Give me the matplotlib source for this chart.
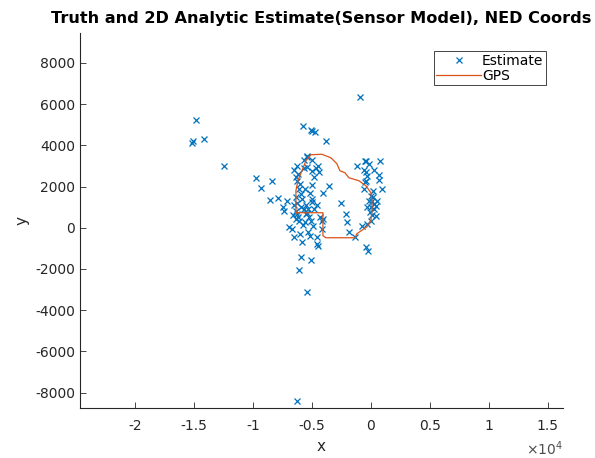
import numpy as np
import matplotlib
matplotlib.use("Agg")
import matplotlib.pyplot as plt
from matplotlib.ticker import FuncFormatter

plt.rcParams['font.family'] = ['DejaVu Sans']
plt.rcParams['axes.unicode_minus'] = False

# estimate points (NED, metres)
est_x = [-959, -14832, -15112, -15197, -14178, -12506, -5799, -5069, -5009, -4754,
         -3846, -5408, -5459, -9738, -8405, -9365, -8600, -7870, -7497, -7412,
         -7106, -6537, -6393, -6257, -5688, -5434, -4984, -4695, -4415, -4839,
         -3566, -4075, -4984, -6113, -5968, -5833, -5034, -4984, -6368, -6283,
         -6198, -6113, -6368, -5544, -5264, -5119, -4075, -4135, -6962, -6682,
         -6537, -5833, -5179, -4559, -4559, -4135, -2572, -2148, -2012, -1868,
         -1358, -1214, -535, -399, 790, -450, -314, -450, 255, 705,
         934, -594, -25, 110, 255, -25, 399, 399, -25, -314,
         -739, -450, -255, -4500, -5917, -5119, -6113, -5408, -6257,
         -6300, -6200, -6050, -6400, -6250, -5900, -5700, -5500, -5300, -5600,
         -5800, -5400, -4800, -4600, -5000, -4500, -5700, -5600, -5200, -6500,
         -6600, -4300, -4900, -5300, -6000, -200, 200, 300, -100, 150,
         -300, 500, -600, -200, -500, 700, 100]
est_y = [6320, 5238, 4195, 4123, 4283, 2993, 4947, 4753, 4705, 4622,
         4186, 3492, 3410, 2425, 2280, 1940, 1343, 1440, 1004, 825,
         1310, 2798, 2440, 2280, 2895, 2959, 2765, 2895, 2716, 2440,
         2037, 1664, 2086, 1877, 1634, 1392, 1392, 1227, 825, 679,
         534, 340, 437, 679, 500, 340, 437, 340, 15, -63,
         -470, -713, -388, -470, -791, -63, 1198, 664, 257, -228,
         -470, 3007, 3216, 3216, 3235, 2682, 2522, 2280, 2798, 2556,
         1892, 1877, 1552, 1310, 1150, 985, 1067, 582, 340, 179,
         97, -955, -1116, -873, -1407, -1567, -2052, -3104, -8392,
         3000, 2600, 2100, 1500, 1200, 1000, 900, 1100, 900, 300,
         150, 700, 900, 1100, 3300, 3000, 3300, 1900, 1700, 1100,
         600, 500, 100, -200, -300, 1300, 1500, 900, 750, 1800,
         1000, 1300, 2800, 3100, 2200, 2300, 600]

# GPS track
gps_x = [-6368, -6368, -6198, -5858, -5518, -5094, -4160, -3396, -2887, -2632,
         -2207, -1868, -1019, -425, 0, 85, 85, 0, -340, -1189,
         -1358, -3821, -4075, -4075, -5264, -6368]
gps_y = [679, 1795, 2280, 2765, 3250, 3541, 3565, 3395, 3104, 2765,
         2668, 2425, 2280, 2037, 1698, 1310, 825, 340, 49, -291,
         -485, -485, -388, 728, 728, 728]

fig = plt.figure(figsize=(5.95, 4.58), dpi=100)
ax = fig.add_axes([0.1345, 0.109, 0.8115, 0.819])

ax.plot(est_x, est_y, 'x', color='#0072BD', markersize=5, markeredgewidth=0.9, label='Estimate')
ax.plot(gps_x, gps_y, '-', color='#D95319', linewidth=0.9, label='GPS')

ax.set_xlim(-24700, 16300)
ax.set_ylim(-8750, 9450)
ax.set_xticks(np.arange(-20000, 15001, 5000))
ax.set_yticks(np.arange(-8000, 8001, 2000))
ax.xaxis.set_major_formatter(FuncFormatter(lambda v, _: f"{v / 1e4:g}"))
ax.text(1.0, -0.083, r'$\times\mathregular{10^4}$', transform=ax.transAxes,
        ha='right', va='top', fontsize=10, color='#4d4d4d')

for s in ['top', 'right']:
    ax.spines[s].set_visible(False)
for s in ['left', 'bottom']:
    ax.spines[s].set_color('#262626')
    ax.spines[s].set_linewidth(0.8)
ax.tick_params(direction='in', length=4, width=0.6, colors='#262626',
               labelsize=10, labelcolor='#262626')
ax.tick_params(axis='x', pad=8)

ax.set_xlabel('x', fontsize=11, color='#262626')
ax.set_ylabel('y', fontsize=11, color='#262626')
ax.set_title('Truth and 2D Analytic Estimate(Sensor Model), NED Coords',
             fontsize=11.6, fontweight='bold', pad=7)

leg = ax.legend(loc='upper right', bbox_to_anchor=(0.98, 0.97), fancybox=False,
                framealpha=1, edgecolor='#262626', fontsize=10,
                handlelength=3.2, borderpad=0.2, labelspacing=0.05, handletextpad=0.1)
leg.get_frame().set_linewidth(0.6)

fig.savefig('out.png', dpi=100)
